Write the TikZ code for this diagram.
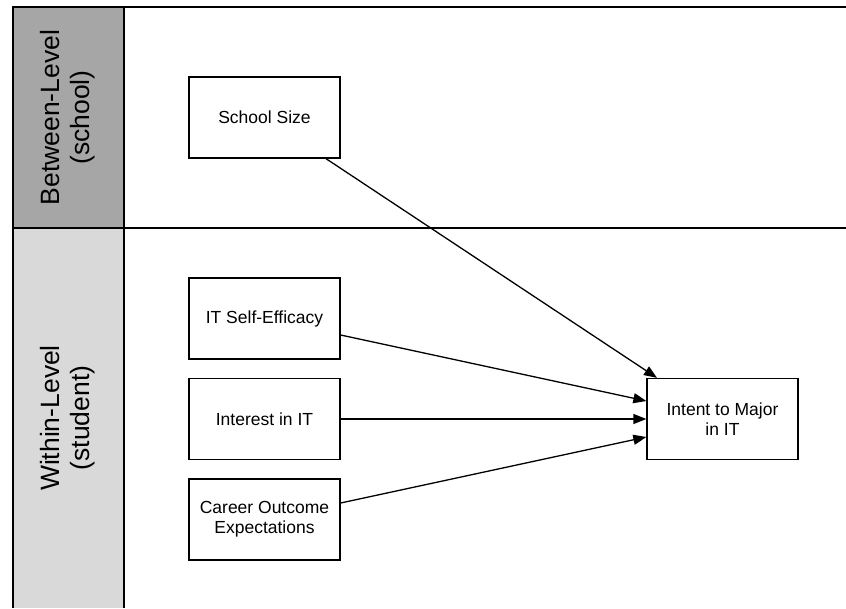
\documentclass[tikz,border=0pt]{standalone}
\usepackage{fontspec}
\setmainfont{Liberation Sans}
\usetikzlibrary{arrows.meta}

\begin{document}
\begin{tikzpicture}[x=1pt,y=-1pt,
   box/.style={draw,line width=1.3pt,minimum width=151pt,minimum height=81pt,
     inner sep=0pt,align=center,font=\fontsize{17.5}{20}\selectfont},
   side/.style={rotate=90,align=center,font=\fontsize{26.5}{30}\selectfont},
   arr/.style={-{Triangle[length=13pt,width=10pt]},line width=1.3pt}]
   \useasboundingbox (0,0) rectangle (846,608);

   % level column and frame
   \fill[black!35] (13,7) rectangle (124,228);
   \fill[black!15] (13,228) rectangle (124,608);
   \draw[line width=2pt] (846,7) -- (13,7) -- (13,608);
   \draw[line width=2pt] (124,7) -- (124,608);
   \draw[line width=2pt] (13,228) -- (846,228);

   \node[side] (lvl2) at (68,117.5) {Between-Level\\(school)};
   \node[side] (lvl1) at (68,418) {Within-Level\\(student)};

   \node[box] (size) at (264.5,117.5) {School Size};
   \node[box] (eff) at (264.5,318.5) {IT Self-Efficacy};
   \node[box] (int) at (264.5,419) {Interest in IT};
   \node[box] (coe) at (264.5,519.5) {Career Outcome\\Expectations};
   \node[box] (major) at (722.5,419) {Intent to Major\\in IT};

   \path[arr] ([xshift=61.5pt]size.south) edge ([xshift=-65.5pt]major.north);
   \path[arr] ([yshift=-16.5pt]eff.east) edge ([yshift=18pt]major.west);
   \path[arr] (int.east) edge (major.west);
   \path[arr] ([yshift=16.5pt]coe.east) edge ([yshift=-18pt]major.west);

\end{tikzpicture}
\end{document}
